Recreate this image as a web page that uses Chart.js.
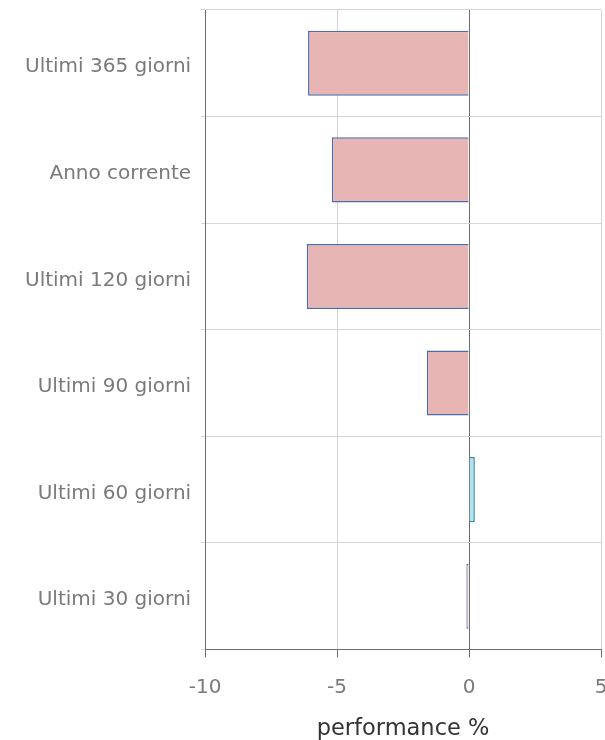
<!DOCTYPE html>
<html>
<head>
<meta charset="utf-8">
<script src="https://cdn.jsdelivr.net/npm/chart.js@4/dist/chart.umd.min.js"></script>
<style>
  html, body { margin: 0; padding: 0; background: #fff; overflow: hidden; }
  #box { width: 605px; height: 740px; }
</style>
</head>
<body>
<div id="box"><canvas id="grafico"></canvas></div>
<script>
// periodi e performance (%)
var periodi = ['Ultimi 365 giorni', 'Anno corrente', 'Ultimi 120 giorni', 'Ultimi 90 giorni', 'Ultimi 60 giorni', 'Ultimi 30 giorni'];
var performance = [-6.1, -5.2, -6.15, -1.6, 0.22, -0.1];
var asseMin = -10;
var asseMax = 5;
var titoloAsse = 'performance %';

var font = "'DejaVu Sans', Verdana, sans-serif";

// niente margine extra per le etichette agli estremi
function senzaMargini(scale) {
    scale.paddingTop = 0;
    scale.paddingBottom = 0;
    scale.paddingLeft = 0;
    scale.paddingRight = 0;
}

var ctx = document.getElementById('grafico').getContext('2d');
var grafico = new Chart(ctx, {
    type: 'bar',
    data: {
        labels: periodi,
        datasets: [{
            data: performance,
            backgroundColor: function (c) { return c.raw < 0 ? '#e8b5b5' : '#aee3ef'; },
            borderColor: function (c) { return c.raw < 0 ? '#4d6cad' : '#3b8aab'; },
            borderWidth: 1.5,
            categoryPercentage: 1,
            barPercentage: 0.61
        }]
    },
    options: {
        indexAxis: 'y',
        responsive: true,
        maintainAspectRatio: false,
        animation: false,
        layout: { padding: { top: 10, left: 15, right: 4, bottom: 0 } },
        plugins: { legend: { display: false }, tooltip: { enabled: false } },
        scales: {
            x: {
                min: asseMin,
                max: asseMax,
                afterFit: senzaMargini,
                ticks: { stepSize: 5, color: '#7a7a7a', padding: 18, font: { family: font, size: 20 } },
                grid: {
                    color: function (c) { return c.tick && c.tick.value === 0 ? '#6e6e6e' : '#d4d4d4'; },
                    tickColor: '#6e6e6e',
                    tickLength: 8
                },
                border: { color: '#6e6e6e', width: 1 },
                title: { display: true, text: titoloAsse, color: '#333', padding: { top: -2, bottom: -2.5 }, font: { family: font, size: 22.5 } }
            },
            y: {
                afterFit: senzaMargini,
                ticks: { color: '#7a7a7a', padding: 10, labelOffset: 4, font: { family: font, size: 20 } },
                grid: { color: '#d4d4d4', tickColor: '#d4d4d4', tickLength: 4 },
                border: { color: '#6e6e6e', width: 1 }
            }
        }
    }
});
</script>
</body>
</html>
